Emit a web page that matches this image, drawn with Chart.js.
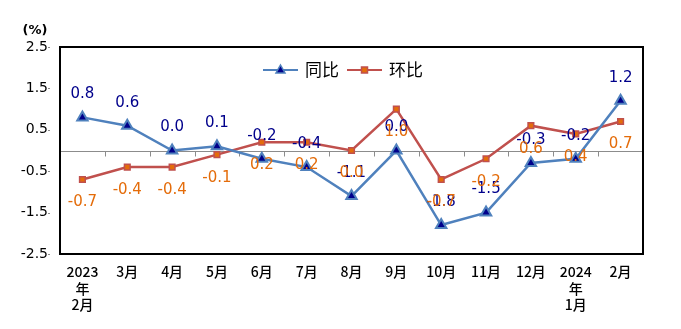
<!DOCTYPE html>
<html>
<head>
<meta charset="utf-8">
<script src="https://cdn.jsdelivr.net/npm/chart.js@4/dist/chart.umd.min.js"></script>
<style>
  html, body { margin: 0; padding: 0; background: #fff; }
  #wrap { width: 681px; height: 329px; position: relative; }
</style>
</head>
<body>
<div id="wrap"><canvas id="c" width="681" height="329"></canvas></div>
<script>
// Months (Feb 2023 – Feb 2024)
const categories = [
  ['2023', '年', '2月'], '3月', '4月', '5月', '6月', '7月', '8月',
  '9月', '10月', '11月', '12月', ['2024', '年', '1月'], '2月'
];
// Year-on-year change (%)
const yoyValues = [0.8, 0.6, 0.0, 0.1, -0.2, -0.4, -1.1, 0.0, -1.8, -1.5, -0.3, -0.2, 1.2];
// Month-on-month change (%)
const momValues = [-0.7, -0.4, -0.4, -0.1, 0.2, 0.2, 0.0, 1.0, -0.7, -0.2, 0.6, 0.4, 0.7];
const yTicks = [-2.5, -1.5, -0.5, 0.5, 1.5, 2.5];
const seriesNames = ['同比', '环比'];

const BLUE = '#4F81BD', NAVY = '#00008B';
const RED = '#C0504D', ORANGE = '#E46C0A';

// Plot frame, zero line with category ticks, y tick dashes, unit label
const framePlugin = {
  id: 'frame',
  beforeDatasetsDraw(chart) {
    const { ctx, chartArea: a, scales } = chart;
    const y0 = Math.round(scales.y.getPixelForValue(0)) + 0.5;
    ctx.save();
    ctx.strokeStyle = '#8c8c8c';
    ctx.lineWidth = 1;
    ctx.beginPath();
    ctx.moveTo(a.left, y0); ctx.lineTo(a.right, y0);
    const n = categories.length;
    for (let i = 1; i <= n; i++) {
      const x = Math.round(a.left + (a.right - a.left) * i / n) + 0.5;
      ctx.moveTo(x, y0); ctx.lineTo(x, y0 + 5);
    }
    yTicks.forEach(v => {
      const y = Math.round(scales.y.getPixelForValue(v)) + 0.5;
      ctx.moveTo(a.left - 12, y); ctx.lineTo(a.left - 10, y);
    });
    ctx.stroke();
    ctx.restore();
  },
  afterDraw(chart) {
    const { ctx, chartArea: a } = chart;
    ctx.save();
    ctx.strokeStyle = '#000';
    ctx.lineWidth = 2;
    ctx.strokeRect(a.left, a.top, a.right - a.left, a.bottom - a.top);
    ctx.fillStyle = '#000';
    ctx.font = 'bold 13px "DejaVu Sans"';
    ctx.textAlign = 'center';
    ctx.textBaseline = 'middle';
    ctx.fillText('(%)', 35, 31);
    ctx.restore();
  }
};

// Value labels: YoY above its points, MoM below its points
const labelPlugin = {
  id: 'valueLabels',
  afterDatasetsDraw(chart) {
    const { ctx } = chart;
    ctx.save();
    ctx.font = '15px "DejaVu Sans"';
    ctx.textAlign = 'center';
    ctx.textBaseline = 'middle';
    chart.data.datasets.forEach((ds, di) => {
      const meta = chart.getDatasetMeta(di);
      meta.data.forEach((pt, i) => {
        const v = ds.data[i];
        ctx.fillStyle = di === 0 ? NAVY : ORANGE;
        const dy = di === 0 ? -23 : 23;
        ctx.fillText(v.toFixed(1), pt.x, pt.y + dy);
      });
    });
    ctx.restore();
  }
};

// Legend drawn inside the plot area
const legendPlugin = {
  id: 'innerLegend',
  afterDraw(chart) {
    const { ctx } = chart;
    const items = [
      { x: 263, color: BLUE, style: 'triangle', fill: NAVY, text: seriesNames[0] },
      { x: 347, color: RED, style: 'rect', fill: ORANGE, text: seriesNames[1] }
    ];
    const y = 70;
    ctx.save();
    items.forEach(it => {
      ctx.strokeStyle = it.color;
      ctx.lineWidth = 2;
      ctx.beginPath();
      ctx.moveTo(it.x, y); ctx.lineTo(it.x + 35, y);
      ctx.stroke();
      ctx.fillStyle = it.fill; ctx.strokeStyle = it.color;
      ctx.lineWidth = 1.5;
      ctx.beginPath();
      const cx = it.x + 17.5;
      if (it.style === 'triangle') {
        ctx.moveTo(cx, y - 5); ctx.lineTo(cx + 4.5, y + 3); ctx.lineTo(cx - 4.5, y + 3); ctx.closePath();
      } else {
        ctx.rect(cx - 3, y - 3, 6, 6);
      }
      ctx.fill(); ctx.stroke();
      ctx.fillStyle = '#000';
      ctx.font = '17px "Noto Sans CJK SC"';
      ctx.textAlign = 'left';
      ctx.textBaseline = 'middle';
      ctx.fillText(it.text, it.x + 42, y);
    });
    ctx.restore();
  }
};

new Chart(document.getElementById('c'), {
  type: 'line',
  data: {
    labels: categories,
    datasets: [
      {
        label: seriesNames[0],
        data: yoyValues,
        borderColor: BLUE,
        borderWidth: 2.5,
        pointStyle: 'triangle',
        pointRadius: 6,
        pointBorderWidth: 2,
        pointBackgroundColor: NAVY,
        pointBorderColor: BLUE,
        tension: 0
      },
      {
        label: seriesNames[1],
        data: momValues,
        borderColor: RED,
        borderWidth: 2.5,
        pointStyle: 'rect',
        pointRadius: 4,
        pointBorderWidth: 1.5,
        pointBackgroundColor: ORANGE,
        pointBorderColor: RED,
        tension: 0
      }
    ]
  },
  options: {
    responsive: false,
    animation: false,
    layout: { padding: { top: 47, right: 38, left: 0, bottom: 0 } },
    plugins: { legend: { display: false }, tooltip: { enabled: false } },
    scales: {
      x: {
        offset: true,
        grid: { display: false, drawTicks: false },
        border: { display: false },
        ticks: {
          color: '#000',
          font: { family: '"Noto Sans CJK SC"', size: 14, weight: '500', lineHeight: 1.2 },
          padding: 9,
          maxRotation: 0,
          autoSkip: false
        },
        afterFit(s) { s.height = 329 - 254; }
      },
      y: {
        min: -2.5,
        max: 2.5,
        afterBuildTicks(s) { s.ticks = yTicks.map(v => ({ value: v })); },
        grid: { display: false, drawTicks: false },
        border: { display: false },
        ticks: {
          color: '#000',
          font: { family: '"DejaVu Sans"', size: 14 },
          padding: 12,
          callback: v => v.toFixed(1)
        },
        afterFit(s) { s.width = 60; }
      }
    }
  },
  plugins: [framePlugin, labelPlugin, legendPlugin]
});
</script>
</body>
</html>
